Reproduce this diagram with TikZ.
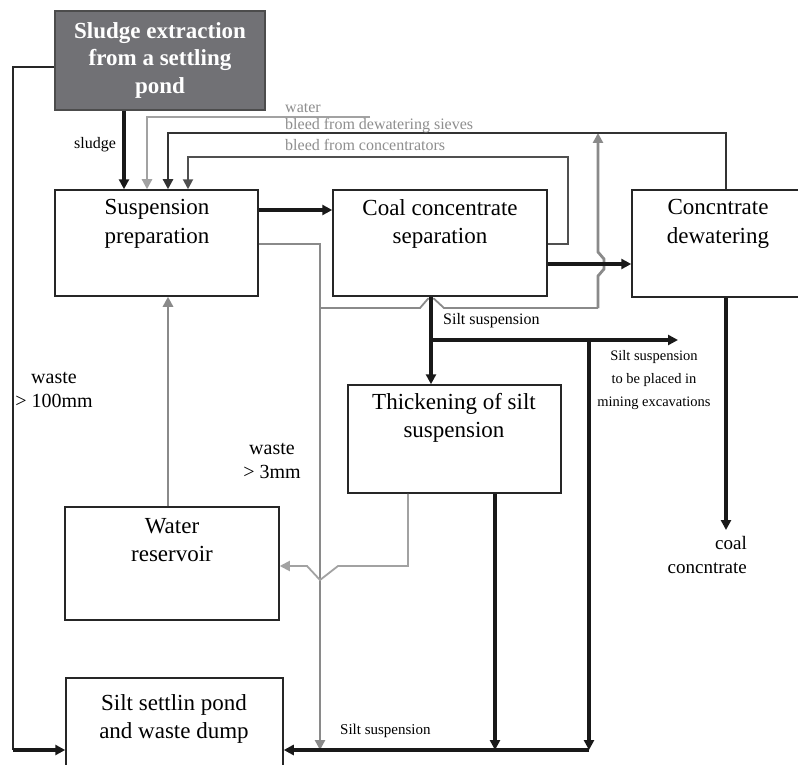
\documentclass[tikz,border=0pt]{standalone}
\usepackage{fontspec}
\setmainfont{Liberation Serif}
\usetikzlibrary{arrows.meta,calc}
\definecolor{boxgray}{HTML}{717175}
\definecolor{lgray}{HTML}{A2A2A2}
\definecolor{mgray}{HTML}{8A8A8A}
\definecolor{dgray}{HTML}{505050}
\definecolor{lbl}{HTML}{8E8E8E}
\begin{document}
\begin{tikzpicture}[x=1pt,y=-1pt,
  box/.style={draw=black!85, line width=1.5pt, inner sep=0pt},
  boxtext/.style={font=\fontsize{23}{28.5}\selectfont, align=center, inner sep=0pt},
  small/.style={font=\fontsize{16}{19}\selectfont, inner sep=0pt},
  tipbig/.style={-{Triangle[length=10pt,width=10pt]}},
  thickarr/.style={draw=black!90, line width=3.4pt, tipbig},
  darkline/.style={draw=black!80, line width=2.2pt},
  concline/.style={draw=dgray, line width=2pt},
  mgrayline/.style={draw=mgray, line width=2.8pt},
  lgrayline/.style={draw=lgray, line width=1.8pt},
  thinline/.style={draw=black!85, line width=1.5pt}]
\clip (0,0) rectangle (798,765);
\fill[white] (0,0) rectangle (798,765);

% boxes
\node[box, fill=boxgray, draw=black!70, minimum width=210pt, minimum height=99pt] (sludge) at (160,60.5) {};
\node[boxtext, text=white, font=\fontsize{23}{27.5}\selectfont\bfseries] (sludgeT) at (160,60) {Sludge extraction\\from a settling\\pond};
\node[box, minimum width=203pt, minimum height=106pt] (susp) at (156.5,243) {};
\node[boxtext] (suspT) at (157,224) {Suspension\\preparation};
\node[box, minimum width=214pt, minimum height=106pt] (coal) at (440,243) {};
\node[boxtext] (coalT) at (440,224) {Coal concentrate\\separation};
\node[box, minimum width=198pt, minimum height=107pt] (dew) at (731,243.5) {};
\node[boxtext] (dewT) at (718,224) {Concntrate\\dewatering};
\node[box, minimum width=213pt, minimum height=108pt] (thk) at (454.5,439) {};
\node[boxtext] (thkT) at (454,418) {Thickening of silt\\suspension};
\node[box, minimum width=214pt, minimum height=113pt] (water) at (172,563.5) {};
\node[boxtext] (waterT) at (172,540) {Water\\reservoir};
\node[box, minimum width=217pt, minimum height=122pt] (silt) at (174.5,739) {};
\node[boxtext] (siltT) at (174,719) {Silt settlin pond\\and waste dump};

% coordinates
\coordinate (xSl) at (124,0);
\coordinate (xW) at (147,0);
\coordinate (wEnd) at (370,117);
\coordinate (xDw) at (726,0);
\coordinate (yDw) at (0,133);
\coordinate (xDs) at (168,0);
\coordinate (yCc) at (0,244);
\coordinate (xCc) at (568,0);
\coordinate (yCt) at (0,157);
\coordinate (xCs) at (188,0);
\coordinate (yM) at (0,210);
\coordinate (yM2) at (0,264);
\coordinate (yG) at (0,244);
\coordinate (xG) at (320,0);
\coordinate (ySl) at (0,750);
\coordinate (yB) at (0,308);
\coordinate (xB) at (598,0);
\coordinate (xV) at (431,0);
\coordinate (yS) at (0,340);
\coordinate (sEnd) at (678,340);
\coordinate (xR) at (589,0);
\coordinate (xT) at (495,0);
\coordinate (yL) at (0,67);
\coordinate (xL) at (13,0);
\coordinate (xTw) at (408,0);
\coordinate (yW) at (0,566);
\coordinate (xWs) at (168,0);
\coordinate (cEnd) at (726,530);

% gray connectors
\draw[lgrayline, line width=2.2pt, tipbig] (wEnd) -- (wEnd -| xW) -- (susp.north -| xW);
\draw[mgrayline, tipbig] (susp.east |- yG) -- (xG |- yG) -- (xG |- ySl);
\draw[lgrayline, draw=mgray]
  (xG |- yB) -- ($(xV |- yB)+(-11,0)$) -- ($(xV |- coal.south)+(-3,2)$)
  -- ($(xV |- coal.south)+(3,2)$) -- ($(xV |- yB)+(13,0)$) -- (xB |- yB);
\draw[mgrayline, tipbig]
  (xB |- yB) -- ($(xB |- yM2)+(0,12)$) -- ($(xB |- yM2)+(6,5)$)
  -- ($(xB |- yM2)+(6,-5)$) -- ($(xB |- yM2)+(0,-12)$) -- (xB |- yDw);
\draw[lgrayline, tipbig]
  (thk.south -| xTw) -- (xTw |- yW) -- ($(xG |- yW)+(18,0)$) -- ($(xG |- yW)+(0,14)$)
  -- ($(xG |- yW)+(-13,0)$) -- (water.east |- yW);
\draw[mgrayline, tipbig] (water.north -| xWs) -- (susp.south -| xWs);

% dark connectors
\draw[thickarr] (sludge.south -| xSl) -- (susp.north -| xSl);
\draw[darkline, tipbig] (dew.north -| xDw) -- (xDw |- yDw) -- (xDs |- yDw) -- (susp.north -| xDs);
\draw[concline, tipbig] (coal.east |- yCc) -- (xCc |- yCc) -- (xCc |- yCt) -- (xCs |- yCt) -- (susp.north -| xCs);
\draw[thickarr] (susp.east |- yM) -- (coal.west |- yM);
\draw[thickarr] (coal.east |- yM2) -- (dew.west |- yM2);
\draw[thickarr] (xV |- coal.south) -- (thk.north -| xV);
\draw[thickarr] (xV |- yS) -- (sEnd);
\draw[thickarr] (xR |- yS) -- (xR |- ySl);
\draw[thickarr] (thk.south -| xT) -- (xT |- ySl);
\draw[thickarr] (xR |- ySl) -- (silt.east |- ySl);
\draw[thinline] (sludge.west |- yL) -- (xL |- yL) -- (xL |- ySl);
\draw[thickarr] (xL |- ySl) -- (silt.west |- ySl);
\draw[thickarr] (dew.south -| xDw) -- (cEnd);

% labels
\node[small] (lSludge) at (95,145) {sludge};
\node[small, text=lbl, anchor=west] (lWater) at (285,108) {water};
\node[small, text=lbl, anchor=west] (lBds) at (285,126) {bleed from dewatering sieves};
\node[small, text=lbl, anchor=west] (lBc) at (285,145) {bleed from concentrators};
\node[small, anchor=west] (lSilt1) at (443,321) {Silt suspension};
\node[font=\fontsize{14.5}{23}\selectfont, align=center, inner sep=0pt] (lMine) at (654,380) {Silt suspension\\to be placed in\\mining excavations};
\node[small, font=\fontsize{15}{18}\selectfont, anchor=west] (lSilt2) at (340,731) {Silt suspension};
\node[font=\fontsize{20}{24}\selectfont, align=center, inner sep=0pt] (lW100) at (54,390) {waste\\{>} 100mm};
\node[font=\fontsize{20}{24}\selectfont, align=center, inner sep=0pt] (lW3) at (272,461) {waste\\{>} 3mm};
\node[font=\fontsize{19}{24}\selectfont, align=right, inner sep=0pt, anchor=east] (lCoal) at (747,555) {coal\\concntrate};
\end{tikzpicture}
\end{document}
